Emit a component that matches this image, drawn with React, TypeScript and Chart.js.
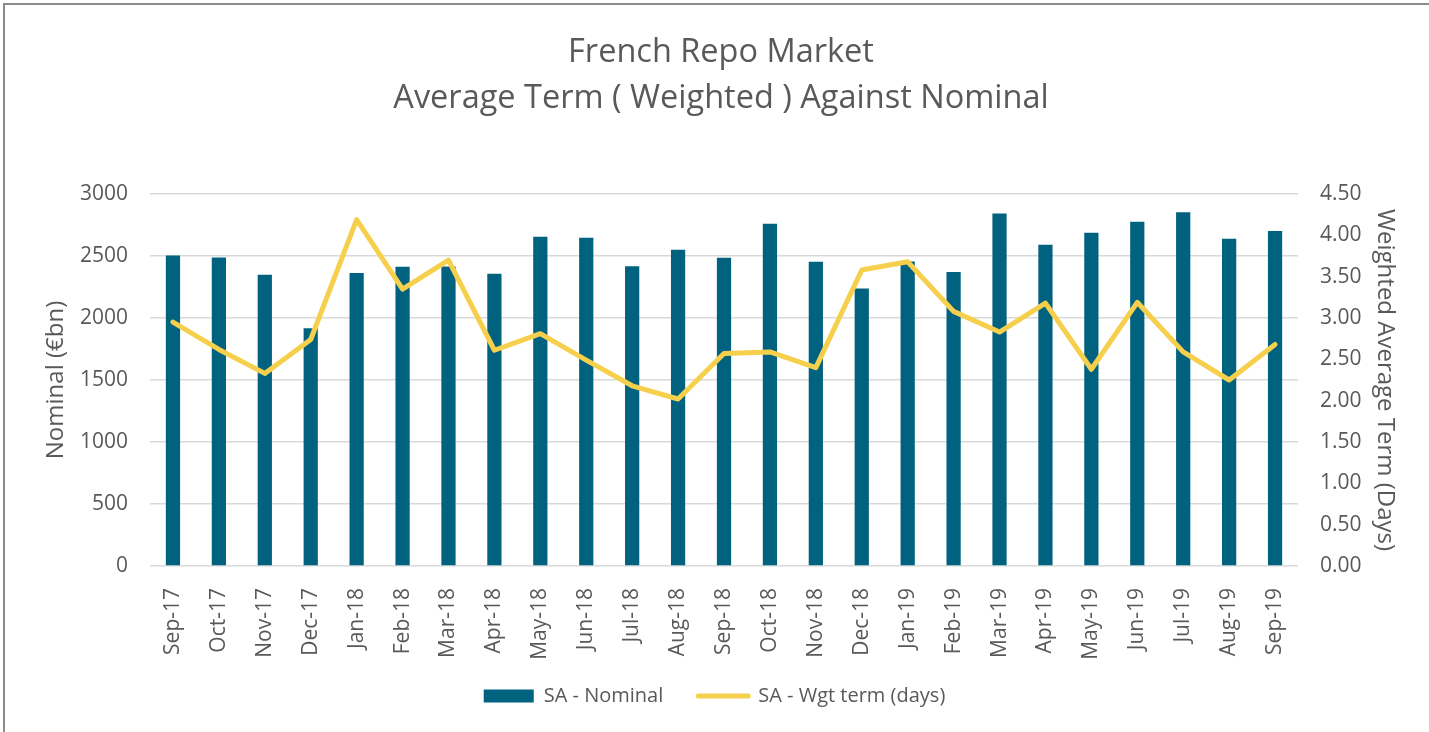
import React, { useEffect, useRef } from "react";
import { Chart, registerables } from "chart.js";

Chart.register(...registerables);

const categories = [
  "Sep-17", "Oct-17", "Nov-17", "Dec-17", "Jan-18", "Feb-18", "Mar-18", "Apr-18",
  "May-18", "Jun-18", "Jul-18", "Aug-18", "Sep-18", "Oct-18", "Nov-18", "Dec-18",
  "Jan-19", "Feb-19", "Mar-19", "Apr-19", "May-19", "Jun-19", "Jul-19", "Aug-19", "Sep-19",
];

const nominal = [
  2505, 2488, 2349, 1917, 2362, 2413, 2415, 2357,
  2656, 2648, 2418, 2551, 2486, 2761, 2454, 2238,
  2455, 2370, 2842, 2591, 2688, 2777, 2852, 2640, 2701,
];

const wgtTerm = [
  2.95, 2.62, 2.33, 2.74, 4.19, 3.35, 3.70, 2.61,
  2.81, 2.49, 2.18, 2.02, 2.57, 2.59, 2.40, 3.58,
  3.68, 3.08, 2.83, 3.18, 2.38, 3.19, 2.59, 2.25, 2.68,
];

const titleLines = ["French Repo Market", "Average Term ( Weighted ) Against Nominal"];
const seriesNames = ["SA - Nominal", "SA - Wgt term (days)"];
const leftAxisTitle = "Nominal (€bn)";
const rightAxisTitle = "Weighted Average Term (Days)";

const BAR_COLOR = "#00627E";
const LINE_COLOR = "#F6D04D";
const TEXT_COLOR = "#595959";
const GRID_COLOR = "#D9D9D9";
const FONT = "'Open Sans', 'DejaVu Sans', sans-serif";

const titlePlugin = {
  id: "customTitle",
  afterDraw(chart: any) {
    const ctx = chart.ctx;
    ctx.save();
    ctx.fillStyle = TEXT_COLOR;
    ctx.font = `32.5px ${FONT}`;
    ctx.textAlign = "center";
    ctx.textBaseline = "alphabetic";
    ctx.fillText(titleLines[0], 721, 62);
    ctx.fillText(titleLines[1], 721, 108);
    ctx.restore();
  },
};

// let the rotated category labels extend below the x-axis box (no clipping)
const unclipPlugin = {
  id: "unclipX",
  afterLayout(chart: any) {
    const x = chart.scales.x;
    if (x) x.bottom = chart.height;
  },
};

export default function App() {
  const canvasRef = useRef<HTMLCanvasElement | null>(null);

  useEffect(() => {
    const canvas = canvasRef.current;
    if (!canvas) return;
    const chart = new Chart(canvas, {
      type: "bar",
      data: {
        labels: categories,
        datasets: [
          {
            type: "bar",
            label: seriesNames[0],
            data: nominal,
            backgroundColor: BAR_COLOR,
            borderWidth: 0,
            barPercentage: 0.31,
            categoryPercentage: 1,
            yAxisID: "y",
            order: 2,
          },
          {
            type: "line",
            label: seriesNames[1],
            data: wgtTerm,
            borderColor: LINE_COLOR,
            backgroundColor: LINE_COLOR,
            borderWidth: 5,
            pointRadius: 0,
            tension: 0,
            borderJoinStyle: "round",
            borderCapStyle: "round",
            yAxisID: "y1",
            order: 1,
          } as any,
        ],
      },
      options: {
        animation: false,
        responsive: false,
        maintainAspectRatio: false,
        layout: { padding: { top: 194, left: 0, right: 0, bottom: 16 } },
        plugins: {
          title: { display: false },
          tooltip: { enabled: false },
          legend: {
            display: true,
            position: "bottom",
            labels: {
              color: TEXT_COLOR,
              font: { family: FONT, size: 20 },
              usePointStyle: true,
              pointStyleWidth: 50,
              boxHeight: 13,
              padding: 35,
              generateLabels: () => [
                {
                  text: seriesNames[0],
                  fillStyle: BAR_COLOR,
                  strokeStyle: BAR_COLOR,
                  lineWidth: 0,
                  pointStyle: "rect",
                  hidden: false,
                  datasetIndex: 0,
                  fontColor: TEXT_COLOR,
                },
                {
                  text: seriesNames[1],
                  fillStyle: LINE_COLOR,
                  strokeStyle: LINE_COLOR,
                  lineWidth: 5,
                  lineCap: "round",
                  pointStyle: "line",
                  hidden: false,
                  datasetIndex: 1,
                  fontColor: TEXT_COLOR,
                },
              ],
            },
          },
        },
        scales: {
          x: {
            type: "category",
            offset: true,
            grid: { display: false },
            border: { display: false },
            ticks: {
              color: TEXT_COLOR,
              font: { family: FONT, size: 21 },
              maxRotation: 90,
              minRotation: 90,
              autoSkip: false,
              padding: 14,
            },
            afterFit: (s: any) => {
              s.height = 85;
            },
          },
          y: {
            type: "linear",
            position: "left",
            min: 0,
            max: 3000,
            ticks: {
              stepSize: 500,
              color: TEXT_COLOR,
              font: { family: FONT, size: 21 },
              padding: 22,
              callback: (v: any) => String(v),
            },
            grid: { color: GRID_COLOR, lineWidth: 1.5, drawTicks: false },
            border: { display: false },
            title: {
              display: true,
              text: leftAxisTitle,
              color: TEXT_COLOR,
              font: { family: FONT, size: 24 },
              padding: { top: 42, bottom: 0 },
            },
            afterFit: (s: any) => {
              s.width = 150;
            },
          },
          y1: {
            type: "linear",
            position: "right",
            min: 0,
            max: 4.5,
            ticks: {
              stepSize: 0.5,
              color: TEXT_COLOR,
              font: { family: FONT, size: 21 },
              padding: 22,
              callback: (v: any) => Number(v).toFixed(2),
            },
            grid: { display: false, drawTicks: false },
            border: { display: false },
            title: {
              display: true,
              text: rightAxisTitle,
              color: TEXT_COLOR,
              font: { family: FONT, size: 24 },
              padding: { top: 30, bottom: 0 },
            },
            afterFit: (s: any) => {
              s.width = 131;
            },
          },
        },
      },
      plugins: [titlePlugin, unclipPlugin],
    } as any);
    return () => chart.destroy();
  }, []);

  return (
    <div
      style={{
        position: "absolute",
        left: 0,
        top: 0,
        width: 1429,
        height: 732,
        overflow: "hidden",
        background: "#ffffff",
      }}
    >
      <canvas
        ref={canvasRef}
        width={1429}
        height={732}
        style={{ position: "absolute", left: 0, top: 0, width: 1429, height: 732 }}
      />
      <div
        style={{
          position: "absolute",
          left: 3,
          top: 3,
          width: 2,
          height: 729,
          background: "#8C8C8C",
          pointerEvents: "none",
        }}
      />
      <div
        style={{
          position: "absolute",
          left: 3,
          top: 3,
          width: 1426,
          height: 2,
          background: "#8C8C8C",
          pointerEvents: "none",
        }}
      />
    </div>
  );
}
